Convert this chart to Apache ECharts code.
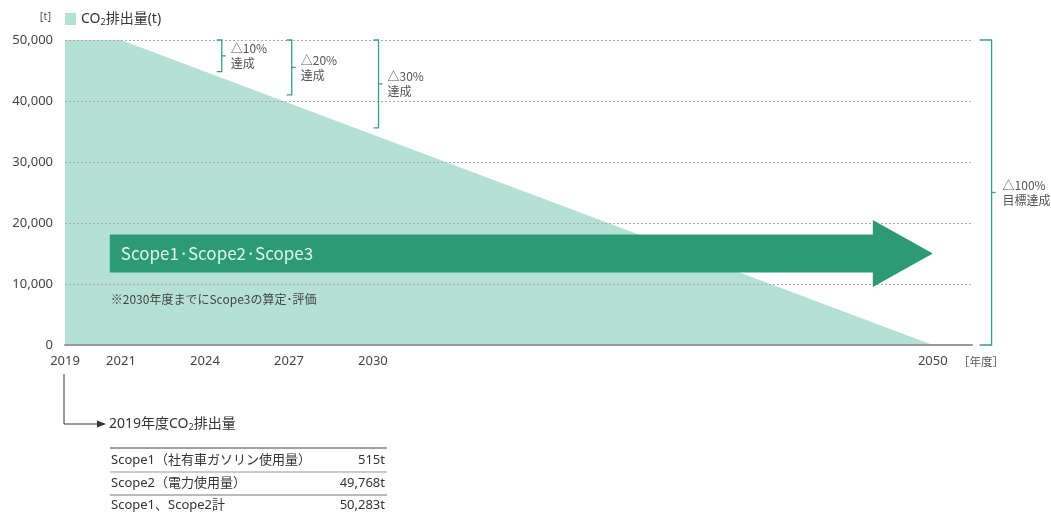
<!DOCTYPE html>
<html><head><meta charset="utf-8">
<script src="https://cdn.jsdelivr.net/npm/echarts@6/dist/echarts.min.js"></script>
<style>html,body{margin:0;padding:0;background:#fff}#c{width:1051px;height:513px}</style>
</head><body><div id="c"></div>
<script>
// ---- data ----
const years = [2019, 2021, 2050];
const emissions = [50000, 50000, 0];
const xTickYears = [2019, 2021, 2024, 2027, 2030, 2050];
const yTicks = [0, 10000, 20000, 30000, 40000, 50000];
const bracketYears = [2024.6, 2027.1, 2030.2, 2052.1];
const bracketTop = [50000, 50000, 50000, 50000];
const bracketBottom = [44800, 41000, 35600, 0];
const bracketLabels = ['△10%\n達成', '△20%\n達成', '△30%\n達成', '△100%\n目標達成'];
const arrowStartYear = [2020.6];
const arrowEndYear = [2050];
const arrowLevel = [15000];
const arrowLabel = 'Scope1·Scope2·Scope3';
const noteText = '※2030年度までにScope3の算定･評価';
const tableTitle = '2019年度CO{s|2}排出量';
const tableLabels = ['Scope1（社有車ガソリン使用量）', 'Scope2（電力使用量）', 'Scope1、Scope2計'];
const tableValues = [515, 49768, 50283];

const FF = '"Noto Sans CJK JP", "Noto Sans", sans-serif';
const FL = '"Noto Sans", "Noto Sans CJK JP", sans-serif';
const chart = echarts.init(document.getElementById('c'));

const graphic = [
  {type:'polyline', shape:{points:[[64,374],[64,424],[99,424]]}, style:{stroke:'#333', lineWidth:1, fill:null}},
  {type:'polygon', shape:{points:[[97,420.5],[106,424],[97,427.5]]}, style:{fill:'#333'}},
  {type:'text', x:109, y:424, style:{text:tableTitle, fill:'#333', font:'14px ' + FL, verticalAlign:'middle',
    rich:{s:{fontSize:9, fontFamily:FL, fill:'#333', padding:[6,0,0,0]}}}}
];
const lineYs = [448, 472, 495];
const lineCols = ['#444', '#999', '#777'];
lineYs.forEach((y, i) => graphic.push({type:'line', shape:{x1:110, y1:y, x2:387, y2:y}, style:{stroke:lineCols[i], lineWidth:1.2}}));
const rowYs = [460, 483, 505];
tableLabels.forEach((t, i) => {
  graphic.push({type:'text', x:111, y:rowYs[i], style:{text:t, fill:'#333', font:'13px ' + FL, verticalAlign:'middle'}});
  graphic.push({type:'text', x:385, y:rowYs[i], style:{text:tableValues[i].toLocaleString('en-US') + 't', fill:'#333', font:'13px ' + FL, verticalAlign:'middle', align:'right'}});
});

chart.setOption({
  animation: false,
  textStyle: {fontFamily: FL},
  grid: {left: 65, right: 79, top: 40, bottom: 168},
  legend: {
    left: 60, top: 7, padding: 5, itemWidth: 11, itemHeight: 12, icon: 'rect',
    data: ['CO2排出量(t)'],
    formatter: () => 'CO{s|2}排出量(t)',
    textStyle: {fontSize: 14, color: '#333', fontFamily: FL, rich: {s: {fontSize: 9, fontFamily: FL, padding: [6,0,0,0]}}}
  },
  xAxis: {
    type: 'value', min: 2019, max: 2051.4, z: 3,
    axisLine: {show: true, lineStyle: {color: '#9a9a9a', width: 2}},
    axisTick: {show: false}, splitLine: {show: false},
    axisLabel: {customValues: xTickYears, margin: 10, fontSize: 13, color: '#444', fontFamily: FL, formatter: v => String(v)},
    name: '［年度］', nameLocation: 'end', nameGap: -14,
    nameTextStyle: {verticalAlign: 'top', padding: [11,0,0,0], fontSize: 11.5, color: '#555', fontFamily: FF}
  },
  yAxis: {
    type: 'value', min: yTicks[0], max: yTicks[yTicks.length-1], interval: 10000, z: 3,
    axisLine: {show: false}, axisTick: {show: false},
    splitLine: {show: true, lineStyle: {color: '#a6adab', type: [2,2], width: 1}},
    axisLabel: {margin: 12, fontSize: 13, color: '#444', fontFamily: FL, formatter: v => v.toLocaleString('en-US')},
    name: '[t]', nameLocation: 'end', nameGap: 23,
    nameTextStyle: {align: 'right', verticalAlign: 'middle', padding: [0,14,0,0], fontSize: 11, color: '#555', fontFamily: FL}
  },
  graphic: graphic,
  series: [
    {
      name: 'CO2排出量(t)', type: 'line', z: 2,
      data: years.map((y, i) => [y, emissions[i]]),
      symbol: 'none', lineStyle: {width: 0},
      itemStyle: {color: '#b5e1d5'},
      areaStyle: {color: '#b5e1d5', opacity: 1}
    },
    {
      type: 'custom', z: 5, silent: true,
      data: arrowStartYear.map((s, i) => [s, arrowEndYear[i], arrowLevel[i]]),
      encode: {x: [0, 1], y: 2},
      renderItem: function (params, api) {
        const s = api.coord([api.value(0), api.value(2)]);
        const e = api.coord([api.value(1), api.value(2)]);
        const y = s[1], bh = 19, hh = 33.5, hl = 60;
        return {type: 'group', children: [
          {type: 'polygon', shape: {points: [[s[0], y-bh], [e[0]-hl, y-bh], [e[0]-hl, y-hh], [e[0], y], [e[0]-hl, y+hh], [e[0]-hl, y+bh], [s[0], y+bh]]}, style: {fill: '#2b9a75'}},
          {type: 'text', x: s[0] + 11, y: y, style: {text: arrowLabel, fill: '#e2f4ee', font: '17px ' + FF, verticalAlign: 'middle'}},
          {type: 'text', x: s[0] + 1, y: y + 46, style: {text: noteText, fill: '#444', font: '12px ' + FF, verticalAlign: 'middle'}}
        ]};
      }
    },
    {
      type: 'custom', z: 5, silent: true,
      data: bracketYears.map((x, i) => [x, bracketTop[i], bracketBottom[i]]),
      encode: {x: 0, y: [1, 2]},
      renderItem: function (params, api) {
        const i = params.dataIndex;
        const t = api.coord([api.value(0), api.value(1)]);
        const b = api.coord([api.value(0), api.value(2)]);
        const x = t[0], y1 = t[1], y2 = b[1], ym = (y1 + y2) / 2;
        const arm = i === 3 ? 12 : 5;
        const c = '#3a9f82';
        return {type: 'group', children: [
          {type: 'polyline', shape: {points: [[x-arm, y1], [x, y1], [x, y2], [x-arm, y2]]}, style: {stroke: c, lineWidth: 1.3, fill: null}},
          {type: 'line', shape: {x1: x, y1: ym, x2: x + 4, y2: ym}, style: {stroke: c, lineWidth: 1.3}},
          {type: 'text', x: x + (i === 3 ? 11 : 9), y: ym, style: {text: bracketLabels[i], fill: '#555', font: '12px ' + FF, verticalAlign: 'middle', lineHeight: 15}}
        ]};
      }
    }
  ]
});
</script></body></html>
